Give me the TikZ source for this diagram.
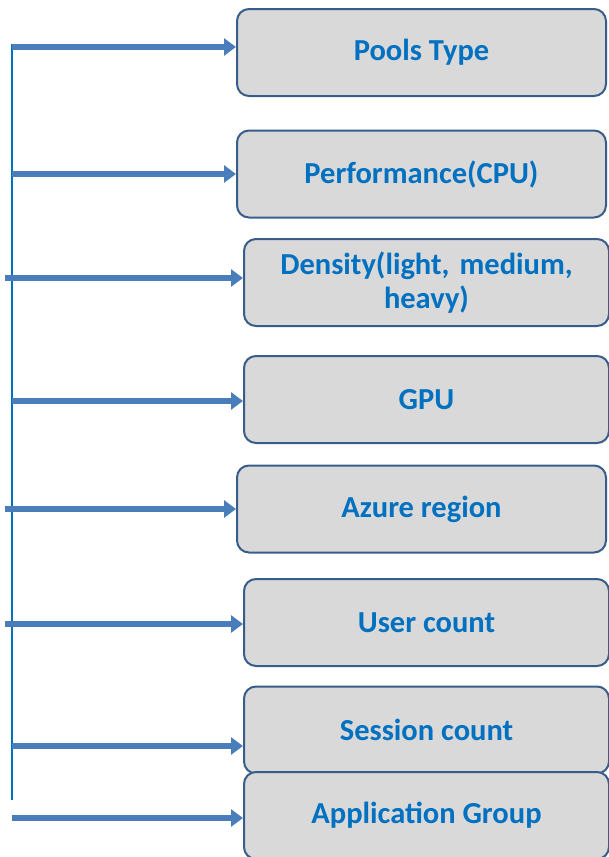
\documentclass[tikz,border=0pt]{standalone}
\usepackage{fontspec}
\setmainfont{Carlito}
\frenchspacing
\usetikzlibrary{arrows.meta}
\definecolor{trunkblue}{RGB}{0,112,192}
\definecolor{arrowblue}{RGB}{74,126,187}
\definecolor{boxedge}{RGB}{56,93,138}
\definecolor{boxfill}{RGB}{217,217,217}

\begin{document}
\begin{tikzpicture}[x=1pt,y=-1pt,
    item/.style={draw=boxedge, line width=2pt, fill=boxfill, rounded corners=12pt,
      minimum height=87pt, text=trunkblue, font=\bfseries\fontsize{30.5}{34}\selectfont,
      align=center, inner sep=0pt},
    feed/.style={arrowblue, line width=5.5pt, -{Triangle[length=12pt,width=17pt]}}]
     \useasboundingbox (0,0) rectangle (608,857);

     \node[item, minimum width=369pt] (pools) at (421.5, 52.5) {Pools Type};
     \node[item, minimum width=369pt] (perf) at (421.5, 174) {Performance(CPU)};
     \node[item, minimum width=365pt, text width=345pt] (dens) at (426.5, 282.5) {Density(light, medium,\\heavy)};
     \node[item, minimum width=365pt] (gpu) at (426.5, 399.5) {GPU};
     \node[item, minimum width=369pt] (azure) at (421.5, 509) {Azure region};
     \node[item, minimum width=365pt] (users) at (426.5, 622.5) {User count};
     \node[item, minimum width=365pt] (sess) at (426.5, 730) {Session count};
     \node[item, minimum width=365pt] (appgrp) at (426.5, 815.5) {Application Group};

     \coordinate (TA) at (12, 44);
     \coordinate (TB) at (12, 800);
     \draw [trunkblue, line width=1.6pt] (TA) -- (TB);

     \coordinate (FA) at (12, 47);
     \coordinate (FB) at (12, 174);
     \coordinate (FC) at (5, 278);
     \coordinate (FD) at (12, 401);
     \coordinate (FE) at (5, 509);
     \coordinate (FF) at (5, 624);
     \coordinate (FG) at (12, 746);
     \coordinate (FH) at (12, 818);

     \draw [feed] (FA) -- (pools.west |- FA);
     \draw [feed] (FB) -- (perf.west |- FB);
     \draw [feed] (FC) -- (dens.west |- FC);
     \draw [feed] (FD) -- (gpu.west |- FD);
     \draw [feed] (FE) -- (azure.west |- FE);
     \draw [feed] (FF) -- (users.west |- FF);
     \draw [feed] (FG) -- (sess.west |- FG);
     \draw [feed] (FH) -- (appgrp.west |- FH);

  \end{tikzpicture}
\end{document}
